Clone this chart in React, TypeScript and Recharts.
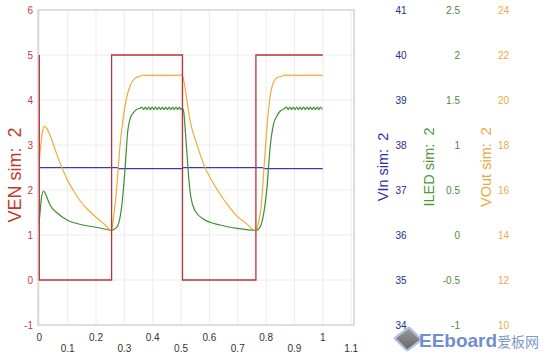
import React from 'react';
import { LineChart, Line, XAxis, YAxis, CartesianGrid, ReferenceArea } from 'recharts';

// tick labels
const xTicks = [0, 0.1, 0.2, 0.3, 0.4, 0.5, 0.6, 0.7, 0.8, 0.9, 1, 1.1];
const venTicks = [-1, 0, 1, 2, 3, 4, 5, 6];
const vinTicks = [34, 35, 36, 37, 38, 39, 40, 41];
const iledTicks = [-1, -0.5, 0, 0.5, 1, 1.5, 2, 2.5];
const voutTicks = [10, 12, 14, 16, 18, 20, 22, 24];

// VEN sim: 2 (enable square wave)
const venTime = [0, 0, 0.255, 0.255, 0.505, 0.505, 0.764, 0.764, 1.0];
const venValues = [5, 0, 0, 5, 5, 0, 0, 5, 5];

// VIn sim: 2
const vinTime = [0, 0.276, 0.279, 0.505, 0.507, 0.788, 0.791, 1.0];
const vinValues = [37.496, 37.496, 37.474, 37.474, 37.496, 37.496, 37.474, 37.474];

// VOut sim: 2
const voutTime = [
  0, 0.006, 0.013, 0.018, 0.024, 0.031, 0.039, 0.057, 0.078, 0.099, 0.124, 0.145, 0.173, 0.201, 0.23, 0.255,
  0.26, 0.267, 0.275, 0.284, 0.296, 0.308, 0.32, 0.337, 0.36,
  0.366, 0.372, 0.378, 0.384, 0.39, 0.396, 0.402, 0.408, 0.414, 0.42, 0.426, 0.432,
  0.438, 0.444, 0.45, 0.456, 0.462, 0.468, 0.474, 0.48, 0.486, 0.492, 0.498, 0.504,
  0.507, 0.511, 0.521, 0.532, 0.556, 0.58, 0.609, 0.638, 0.667, 0.697, 0.727, 0.764,
  0.773, 0.782, 0.796, 0.808, 0.82, 0.838, 0.86,
  0.866, 0.872, 0.878, 0.884, 0.89, 0.896, 0.902, 0.908, 0.914, 0.92, 0.926, 0.932,
  0.938, 0.944, 0.95, 0.956, 0.962, 0.968, 0.974, 0.98, 0.986, 0.992, 0.998,
];
const voutValues = [
  17.3, 18.1, 18.7, 18.84, 18.78, 18.62, 18.4, 17.75, 17.05, 16.45, 15.9, 15.5, 15.1, 14.78, 14.48, 14.2,
  14.6, 15.3, 16.4, 17.88, 19.21, 20.1, 20.62, 20.96, 21.08,
  21.12, 21.08, 21.12, 21.08, 21.12, 21.08, 21.12, 21.08, 21.12, 21.08, 21.12, 21.08,
  21.12, 21.08, 21.12, 21.08, 21.12, 21.08, 21.12, 21.08, 21.12, 21.08, 21.12, 21.08,
  21.0, 20.76, 19.96, 19.07, 18.03, 17.14, 16.4, 15.81, 15.29, 14.84, 14.55, 14.2,
  14.53, 15.21, 17.6, 19.51, 20.55, 20.99, 21.08,
  21.12, 21.08, 21.12, 21.08, 21.12, 21.08, 21.12, 21.08, 21.12, 21.08, 21.12, 21.08,
  21.12, 21.08, 21.12, 21.08, 21.12, 21.08, 21.12, 21.08, 21.12, 21.08, 21.12,
];

// ILED sim: 2
const iledTime = [
  0, 0.004, 0.008, 0.015, 0.02, 0.025, 0.038, 0.063, 0.098, 0.154, 0.214, 0.243, 0.255,
  0.262, 0.276, 0.29, 0.302, 0.312, 0.32, 0.332, 0.344, 0.356,
  0.362, 0.368, 0.374, 0.38, 0.386, 0.392, 0.398, 0.404, 0.41, 0.416, 0.422, 0.428,
  0.434, 0.44, 0.446, 0.452, 0.458, 0.464, 0.47, 0.476, 0.482, 0.488, 0.494, 0.5, 0.505,
  0.509, 0.515, 0.521, 0.527, 0.535, 0.55, 0.58, 0.638, 0.697, 0.764,
  0.773, 0.791, 0.803, 0.814, 0.826, 0.838, 0.85, 0.866,
  0.872, 0.878, 0.884, 0.89, 0.896, 0.902, 0.908, 0.914, 0.92, 0.926, 0.932,
  0.938, 0.944, 0.95, 0.956, 0.962, 0.968, 0.974, 0.98, 0.986, 0.992, 0.998,
];
const iledValues = [
  0.16, 0.3, 0.42, 0.489, 0.47, 0.433, 0.333, 0.244, 0.167, 0.111, 0.078, 0.058, 0.05,
  0.06, 0.1, 0.303, 0.711, 1.156, 1.289, 1.359, 1.397, 1.408,
  1.422, 1.394, 1.422, 1.394, 1.422, 1.394, 1.422, 1.394, 1.422, 1.394, 1.422, 1.394,
  1.422, 1.394, 1.422, 1.394, 1.422, 1.394, 1.422, 1.394, 1.422, 1.394, 1.422, 1.394, 1.408,
  1.378, 1.156, 0.9, 0.637, 0.414, 0.267, 0.174, 0.111, 0.074, 0.052,
  0.063, 0.23, 0.526, 0.97, 1.23, 1.322, 1.378, 1.408,
  1.422, 1.394, 1.422, 1.394, 1.422, 1.394, 1.422, 1.394, 1.422, 1.394, 1.422,
  1.394, 1.422, 1.394, 1.422, 1.394, 1.422, 1.394, 1.422, 1.394, 1.422, 1.394,
];

const toPoints = (t: number[], v: number[]) => t.map((x, i) => ({ t: x, v: v[i] }));

const venData = toPoints(venTime, venValues);
const vinData = toPoints(vinTime, vinValues);
const voutData = toPoints(voutTime, voutValues);
const iledData = toPoints(iledTime, iledValues);

const font = '"Liberation Sans", Arial, Helvetica, sans-serif';

const XTick = (props: any) => {
  const { x, y, payload } = props;
  const odd = Math.round(payload.value * 10) % 2 === 1;
  return (
    <text x={x} y={y + (odd ? 26.5 : 15.5)} textAnchor="middle" fontSize={10} fill="#333" fontFamily={font}>
      {String(payload.value)}
    </text>
  );
};

const sideTick = (dx: number, anchor: string, color: string) => (props: any) => (
  <text x={props.x + dx} y={props.y} dy="0.355em" textAnchor={anchor} fontSize={10} fill={color} fontFamily={font}>
    {String(props.payload.value)}
  </text>
);

const sideLabel = (text: string, dx: number, dy: number, color: string, size: number) => (props: any) => {
  const vb = props.viewBox || { x: 0, y: 0 };
  const cx = vb.x + dx;
  const cy = vb.y + dy;
  return (
    <text
      x={cx}
      y={cy}
      transform={`rotate(-90 ${cx} ${cy})`}
      textAnchor="middle"
      dominantBaseline="central"
      fontSize={size}
      fill={color}
      fontFamily={font}
      style={{ whiteSpace: 'pre' }}
    >
      {text}
    </text>
  );
};

const App = () => {
  return (
    <div style={{ position: 'relative', width: 550, height: 354, background: '#fff' }}>
      <style>{'body{margin:0}'}</style>
      <LineChart width={550} height={354} margin={{ top: 10, right: 0, left: 0, bottom: 0 }}>
        <CartesianGrid stroke="#ececec" />
        <XAxis
          dataKey="t"
          type="number"
          domain={[-0.0046, 1.11]}
          allowDataOverflow
          ticks={xTicks}
          interval={0}
          height={29}
          tickSize={0}
          tickMargin={0}
          axisLine={false}
          tickLine={false}
          tick={<XTick />}
        />
        <YAxis
          type="number"
          domain={[-1, 6]}
          ticks={venTicks}
          interval={0}
          width={38}
          tickSize={0}
          tickMargin={5}
          axisLine={false}
          tickLine={false}
          tick={{ fill: '#c0404a', fontSize: 10, fontFamily: font }}
          label={sideLabel('VEN sim:  2', 15, 165, '#c0392b', 18)}
        />
        <YAxis
          yAxisId="a_vin"
          orientation="right"
          type="number"
          domain={[34, 41]}
          ticks={vinTicks}
          interval={0}
          width={62}
          tickSize={0}
          tickMargin={0}
          axisLine={false}
          tickLine={false}
          tick={sideTick(47, 'middle', '#2a2a8a')}
          label={sideLabel('VIn sim:  2', 29, 157, '#2b2bb0', 14.5)}
        />
        <YAxis
          yAxisId="b_iled"
          orientation="right"
          type="number"
          domain={[-1, 2.5]}
          ticks={iledTicks}
          interval={0}
          width={52}
          tickSize={0}
          tickMargin={0}
          axisLine={false}
          tickLine={false}
          tick={sideTick(44, 'end', '#4e8a3e')}
          label={sideLabel('ILED sim:  2', 13, 157, '#4a9a3a', 14.5)}
        />
        <YAxis
          yAxisId="c_vout"
          orientation="right"
          type="number"
          domain={[10, 24]}
          ticks={voutTicks}
          interval={0}
          width={82}
          tickSize={0}
          tickMargin={0}
          axisLine={false}
          tickLine={false}
          tick={sideTick(30, 'start', '#e6ad45')}
          label={sideLabel('VOut sim:  2', 18, 157, '#e8a838', 14.5)}
        />
        <ReferenceArea x1={-0.0046} x2={1.11} y1={-1} y2={6} fill="none" stroke="#d6d6d6" strokeWidth={1.5} />
        <Line data={vinData} dataKey="v" yAxisId="a_vin" type="linear" stroke="#3a3ab8" strokeWidth={1.3} dot={false} isAnimationActive={false} />
        <Line data={iledData} dataKey="v" yAxisId="b_iled" type="monotone" stroke="#3f8f2f" strokeWidth={1.2} dot={false} isAnimationActive={false} />
        <Line data={voutData} dataKey="v" yAxisId="c_vout" type="monotone" stroke="#eeac35" strokeWidth={1.2} dot={false} isAnimationActive={false} />
        <Line data={venData} dataKey="v" type="linear" stroke="#b7343a" strokeWidth={1.3} dot={false} isAnimationActive={false} />
      </LineChart>
      <div
        style={{
          position: 'absolute',
          left: 398,
          top: 329,
          width: 16,
          height: 16,
          transform: 'rotate(45deg) skewX(-8deg)',
          borderRadius: 3,
          border: '2px solid #a9bde3',
          background: 'linear-gradient(135deg, #9a9a9a, #666)',
        }}
      />
      <div
        style={{
          position: 'absolute',
          left: 419,
          top: 331,
          fontFamily: font,
          fontWeight: 'bold',
          fontSize: 19,
          lineHeight: '19px',
          color: '#6f8fd0',
          whiteSpace: 'nowrap',
        }}
      >
        EEboard
        <span style={{ fontFamily: '"Noto Sans CJK SC", sans-serif', fontWeight: 'normal', fontSize: 14, color: '#7f98cf' }}>爱板网</span>
      </div>
    </div>
  );
};

export default App;
